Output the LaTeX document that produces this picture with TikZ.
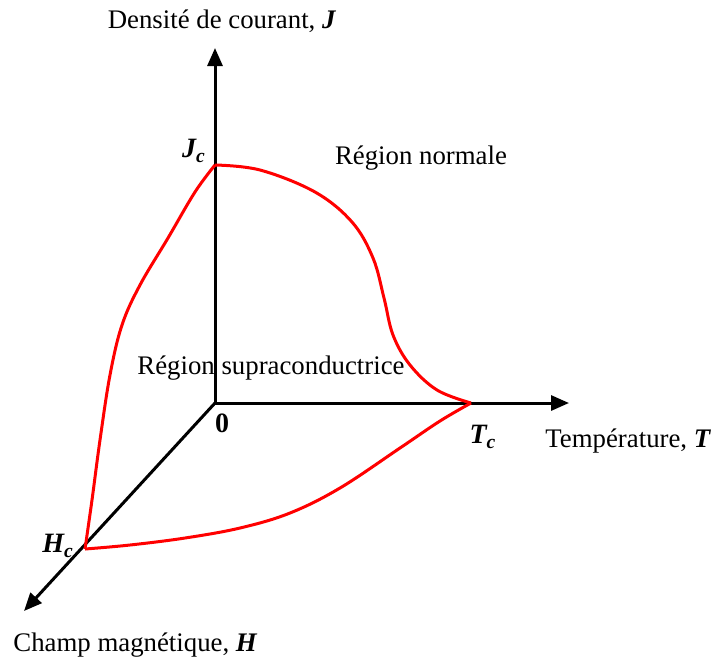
\documentclass[tikz,border=0pt]{standalone}
\usepackage{fontspec}
\setmainfont{Liberation Serif}
\usetikzlibrary{arrows.meta}
\begin{document}
\begin{tikzpicture}[x=0.5pt,y=-0.5pt,
  axis/.style={line width=1.5pt,-{Triangle[length=9pt,width=7.5pt]}},
  crit/.style={red,line width=1.5pt,line join=round},
  lab/.style={inner sep=0pt,font=\fontsize{13.4}{15}\selectfont},
  sym/.style={inner sep=0pt,font=\fontsize{14}{16}\selectfont\bfseries\itshape}]
\path[use as bounding box] (0,0) rectangle (711,666);
\coordinate (O) at (215,403);
\coordinate (Jend) at (215,48);
\coordinate (Tend) at (569,403);
\coordinate (Hend) at (24,611);
\coordinate (Jc) at (215,165);
\coordinate (Tc) at (471,403);
\coordinate (Hc) at (85,549);
\draw[axis] (O) -- (Jend);
\draw[axis] (O) -- (Tend);
\draw[axis] (O) -- (Hend);
\draw[crit] plot[smooth,tension=0.6] coordinates {(Jc) (260,170) (315,192) (352,222) (373,258) (384,298) (393,335) (410,365) (437,390) (Tc)};
\draw[crit] plot[smooth,tension=0.6] coordinates {(Jc) (195,192) (168,238) (140,285) (122,325) (110,375) (100,440) (92,500) (Hc)};
\draw[crit] plot[smooth,tension=0.6] coordinates {(Hc) (130,545) (185,538) (240,528) (290,513) (340,488) (400,448) (440,421) (Tc)};
\node[lab] (tJ) at (222,21) {Densité de courant, \textbf{\textit{J}}};
\node[sym] (tJc) at (194,151) {J\textsubscript{c}};
\node[lab] (tN) at (421,158) {Région normale};
\node[lab] (tS) at (271,368) {Région supraconductrice};
\node[sym,font=\fontsize{14}{16}\selectfont\bfseries] (t0) at (222,423) {0};
\node[sym] (tTc) at (483,437) {T\textsubscript{c}};
\node[lab,anchor=west] (tT) at (545,441) {Température, \textbf{\textit{T}}};
\node[sym] (tHc) at (58,546) {H\textsubscript{c}};
\node[lab,anchor=west] (tH) at (13,645) {Champ magnétique, \textbf{\textit{H}}};
\end{tikzpicture}
\end{document}
